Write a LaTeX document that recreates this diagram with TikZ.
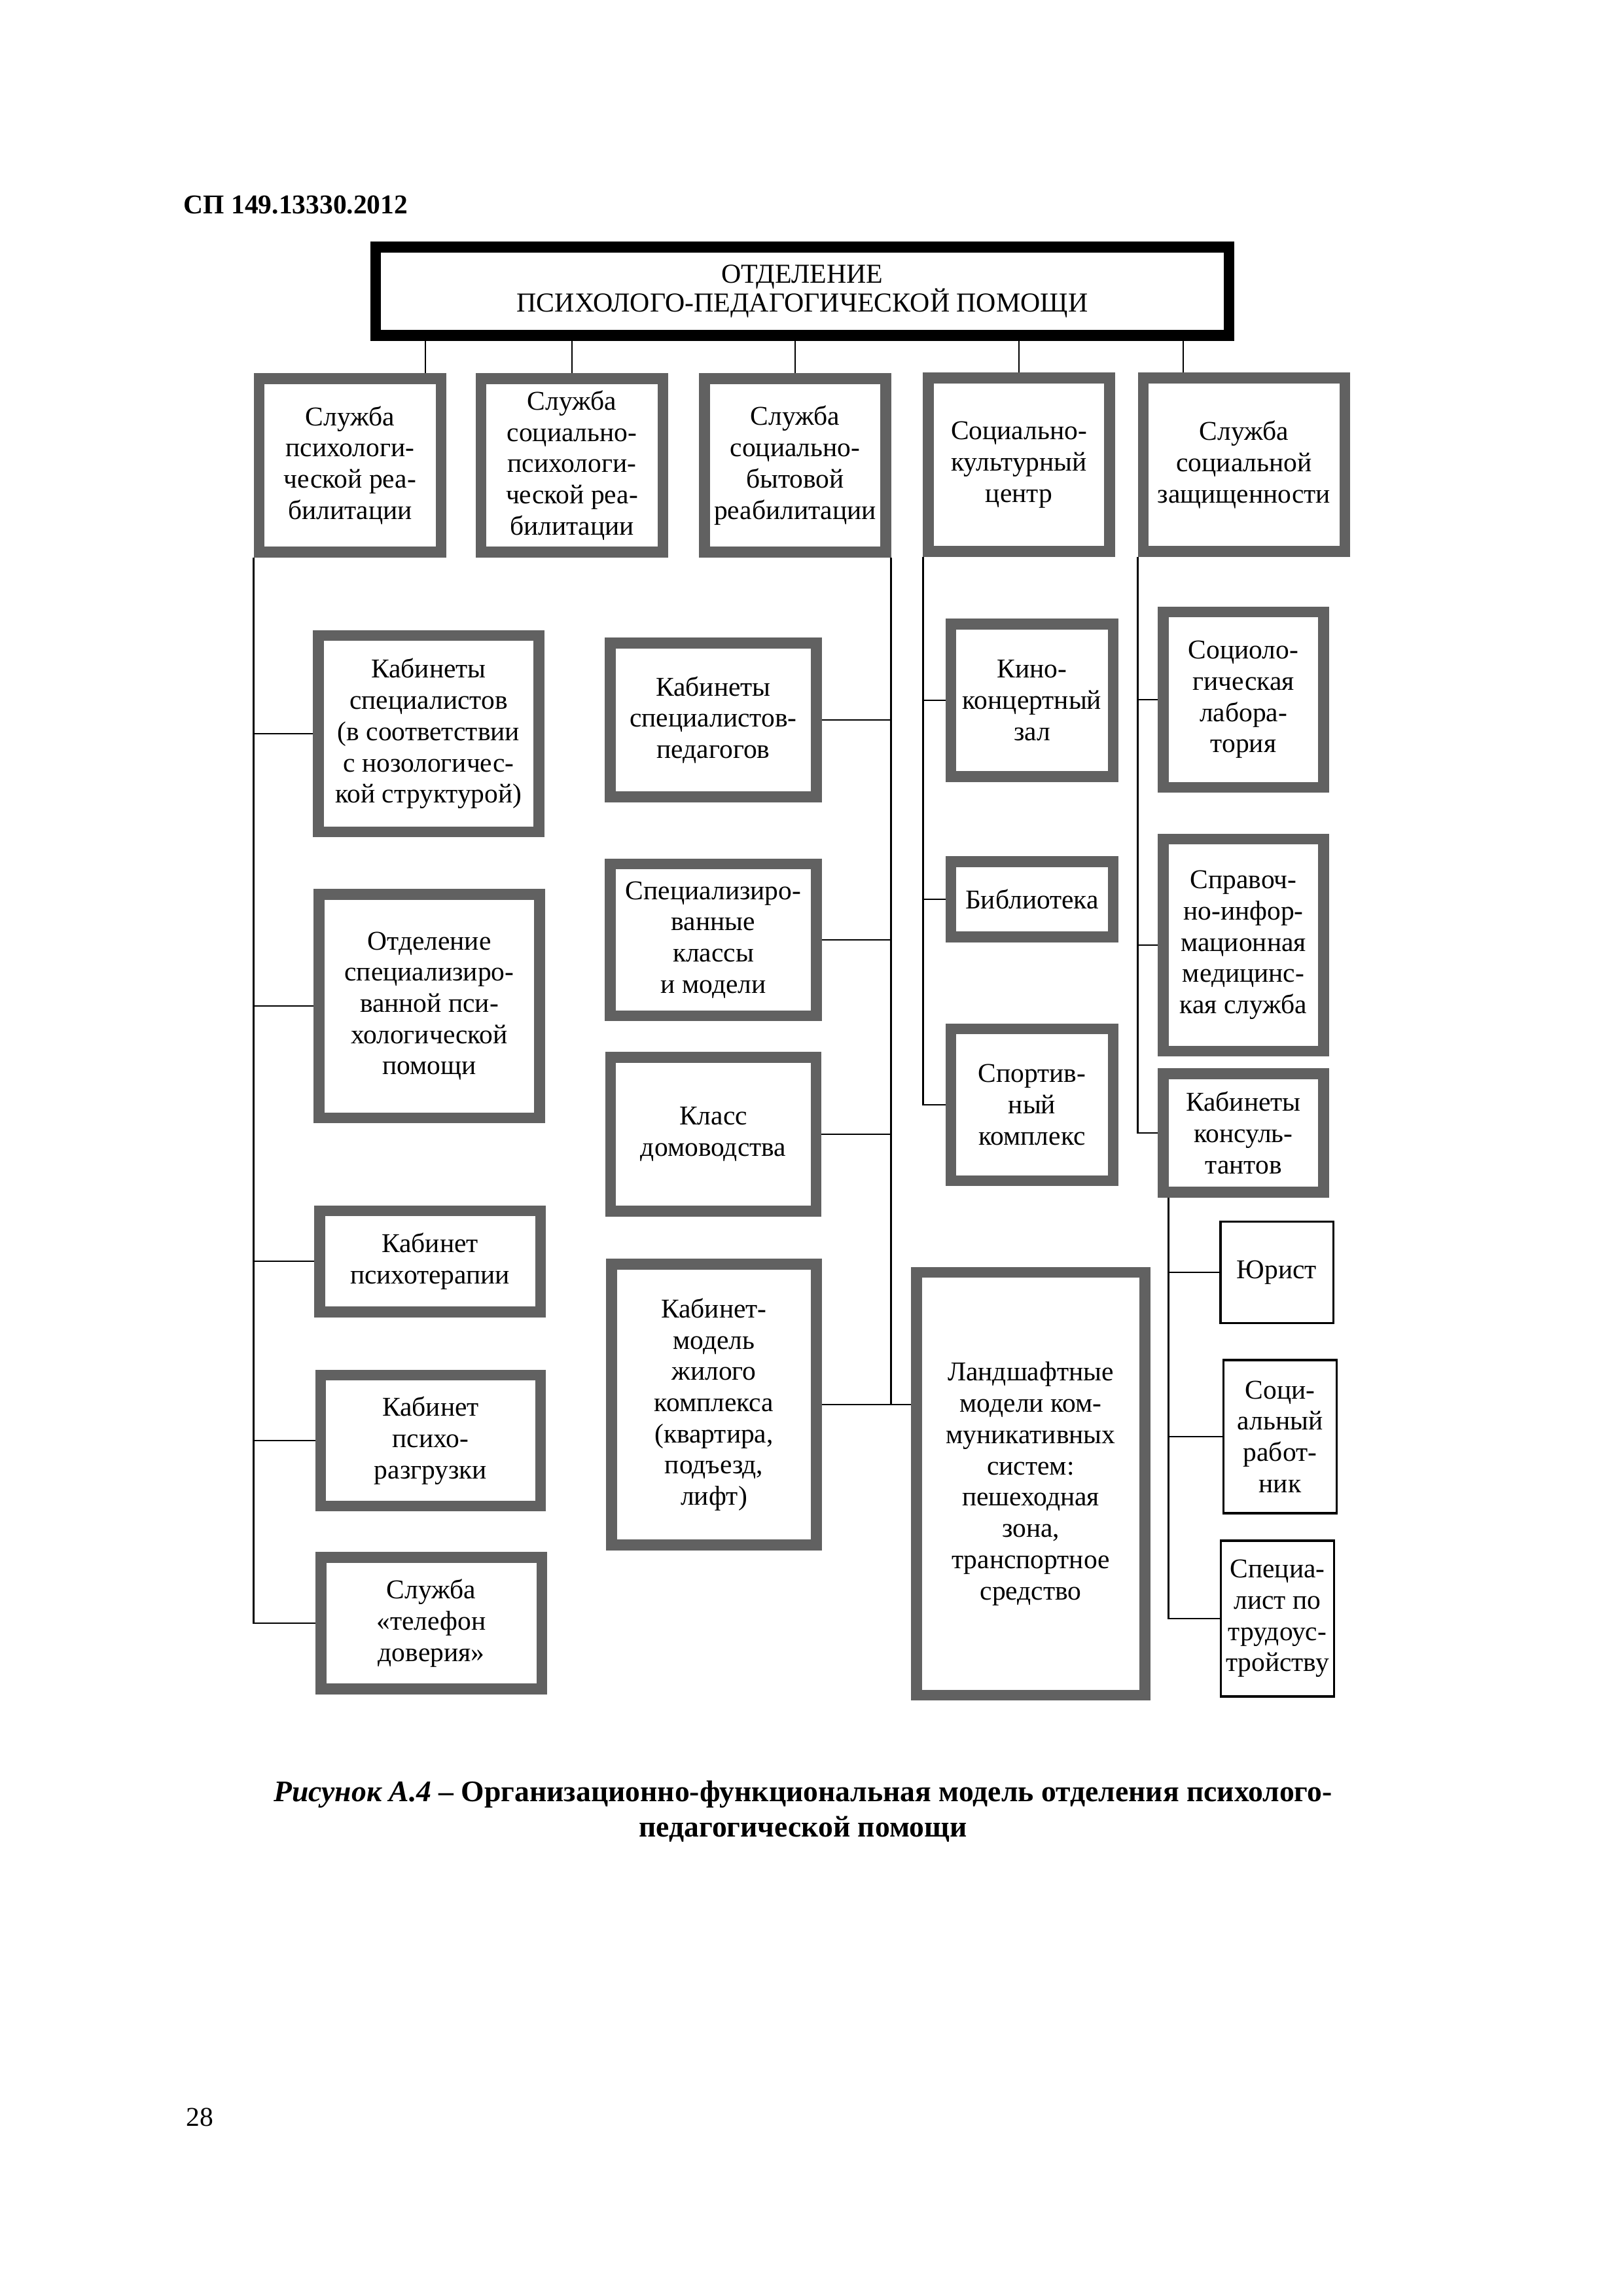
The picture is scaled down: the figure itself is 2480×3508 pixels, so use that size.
\documentclass[tikz,border=0pt]{standalone}
\usepackage{fontspec}
\setmainfont{Liberation Serif}
\usetikzlibrary{calc,backgrounds}

\tikzset{
  wh/.style 2 args={minimum width=#1*0.24pt, minimum height=#2*0.24pt},
  unit/.style={draw=black!62, line width=4pt, fill=white, align=center, inner sep=0pt,
    font=\fontsize{10}{11.5}\selectfont},
  head/.style={draw=black, line width=4pt, fill=white, align=center, inner sep=0pt,
    font=\fontsize{10.1}{10.8}\selectfont},
  plain/.style={draw=black, line width=0.8pt, fill=white, align=center, inner sep=0pt,
    font=\fontsize{10}{11.5}\selectfont},
  link/.style={line width=0.7pt}
}

\begin{document}
\begin{tikzpicture}[x=0.0847mm,y=-0.0847mm]
\useasboundingbox (0,0) rectangle (2480,3508);

\node[anchor=west, inner sep=0pt, font=\fontsize{10}{12}\selectfont\bfseries] (code) at (280,313) {СП 149.13330.2012};

% head of the department
\node[head, wh={1309}{135}] (top) at (1226,445) {ОТДЕЛЕНИЕ\\ПСИХОЛОГО-ПЕДАГОГИЧЕСКОЙ ПОМОЩИ};

% services
\node[unit, wh={279}{266}] (s1) at (535,711) {Служба\\психологи-\\ческой реа-\\билитации};
\node[unit, wh={279}{266}] (s2) at (874,711) {Служба\\социально-\\психологи-\\ческой реа-\\билитации};
\node[unit, wh={278}{266}] (s3) at (1215,711) {Служба\\социально-\\бытовой\\реабилитации};
\node[unit, wh={278}{266}] (s4) at (1557,710) {Социально-\\культурный\\центр};
\node[unit, wh={309}{266}] (s5) at (1901,710) {Служба\\социальной\\защищенности};

% psychological rehabilitation
\node[unit, wh={338}{301}] (a1) at (655,1121) {Кабинеты\\специалистов\\(в соответствии\\с нозологичес-\\кой структурой)};
\node[unit, wh={338}{343}] (a2) at (656,1537) {Отделение\\специализиро-\\ванной пси-\\хологической\\помощи};
\node[unit, wh={339}{155}] (a3) at (657,1927) {Кабинет\\психотерапии};
\node[unit, wh={337}{201}] (a4) at (658,2201) {Кабинет\\психо-\\разгрузки};
\node[unit, wh={339}{202}] (a5) at (659,2480) {Служба\\«телефон\\доверия»};

% social rehabilitation
\node[unit, wh={316}{236}] (b1) at (1090,1100) {Кабинеты\\специалистов-\\педагогов};
\node[unit, wh={316}{233}] (b2) at (1090,1436) {Специализиро-\\ванные\\классы\\и модели};
\node[unit, wh={315}{236}] (b3) at (1090,1733) {Класс\\домоводства};
\node[unit, wh={314}{431}] (b4) at (1091,2146) {Кабинет-\\модель\\жилого\\комплекса\\(квартира,\\подъезд,\\лифт)};
\node[unit, wh={350}{649}] (e1) at (1575,2267) {Ландшафтные\\модели ком-\\муникативных\\систем:\\пешеходная\\зона,\\транспортное\\средство};

% culture
\node[unit, wh={249}{234}] (c1) at (1577,1070) {Кино-\\концертный\\зал};
\node[unit, wh={249}{115}] (c2) at (1577,1374) {Библиотека};
\node[unit, wh={249}{233}] (c3) at (1577,1688) {Спортив-\\ный\\комплекс};

% social protection
\node[unit, wh={246}{269}] (d1) at (1900,1069) {Социоло-\\гическая\\лабора-\\тория};
\node[unit, wh={246}{325}] (d2) at (1900,1444) {Справоч-\\но-инфор-\\мационная\\медицинс-\\кая служба};
\node[unit, wh={246}{182}] (d3) at (1900,1731) {Кабинеты\\консуль-\\тантов};
\node[plain, wh={173}{156}] (f1) at (1951,1944) {Юрист};
\node[plain, wh={174}{235}] (f2) at (1956,2195) {Соци-\\альный\\работ-\\ник};
\node[plain, wh={174}{239}] (f3) at (1952,2473) {Специа-\\лист по\\трудоус-\\тройству};

\begin{scope}[on background layer]
\coordinate (k1) at ($(s1.north)+(115,0)$);
\coordinate (k5) at ($(s5.north)+(-93,0)$);
\foreach \k in {k1,s2.north,s3.north,s4.north,k5}
  \draw[link] (\k) -- (\k |- top.south);

\draw[link] (s1.south west) -- (s1.south west |- a5.west) -- (a5.west);
\foreach \n in {a1,a2,a3,a4}
  \draw[link] (s1.south west |- \n.west) -- (\n.west);

\draw[link] (s3.south east) -- (s3.south east |- b4.east);
\foreach \n in {b1,b2,b3,b4}
  \draw[link] (s3.south east |- \n.east) -- (\n.east);
\draw[link] (b4.east) -- (e1.west |- b4.east);

\draw[link] (s4.south west) -- (s4.south west |- c3.west) -- (c3.west);
\foreach \n in {c1,c2}
  \draw[link] (s4.south west |- \n.west) -- (\n.west);

\draw[link] (s5.south west) -- (s5.south west |- d3.west) -- (d3.west);
\foreach \n in {d1,d2}
  \draw[link] (s5.south west |- \n.west) -- (\n.west);

\coordinate (k6) at ($(d3.south west)+(16,0)$);
\draw[link] (k6) -- (k6 |- f3.west) -- (f3.west);
\foreach \n in {f1,f2}
  \draw[link] (k6 |- \n.west) -- (\n.west);
\end{scope}

\node[align=center, inner sep=0pt, font=\fontsize{11}{13}\selectfont\bfseries] (cap) at (1227,2768)
  {\textit{Рисунок А.4} – Организационно-функциональная модель отделения психолого-\\педагогической помощи};

\node[anchor=west, inner sep=0pt, font=\fontsize{10}{12}\selectfont] (page) at (284,3235) {28};
\end{tikzpicture}
\end{document}
